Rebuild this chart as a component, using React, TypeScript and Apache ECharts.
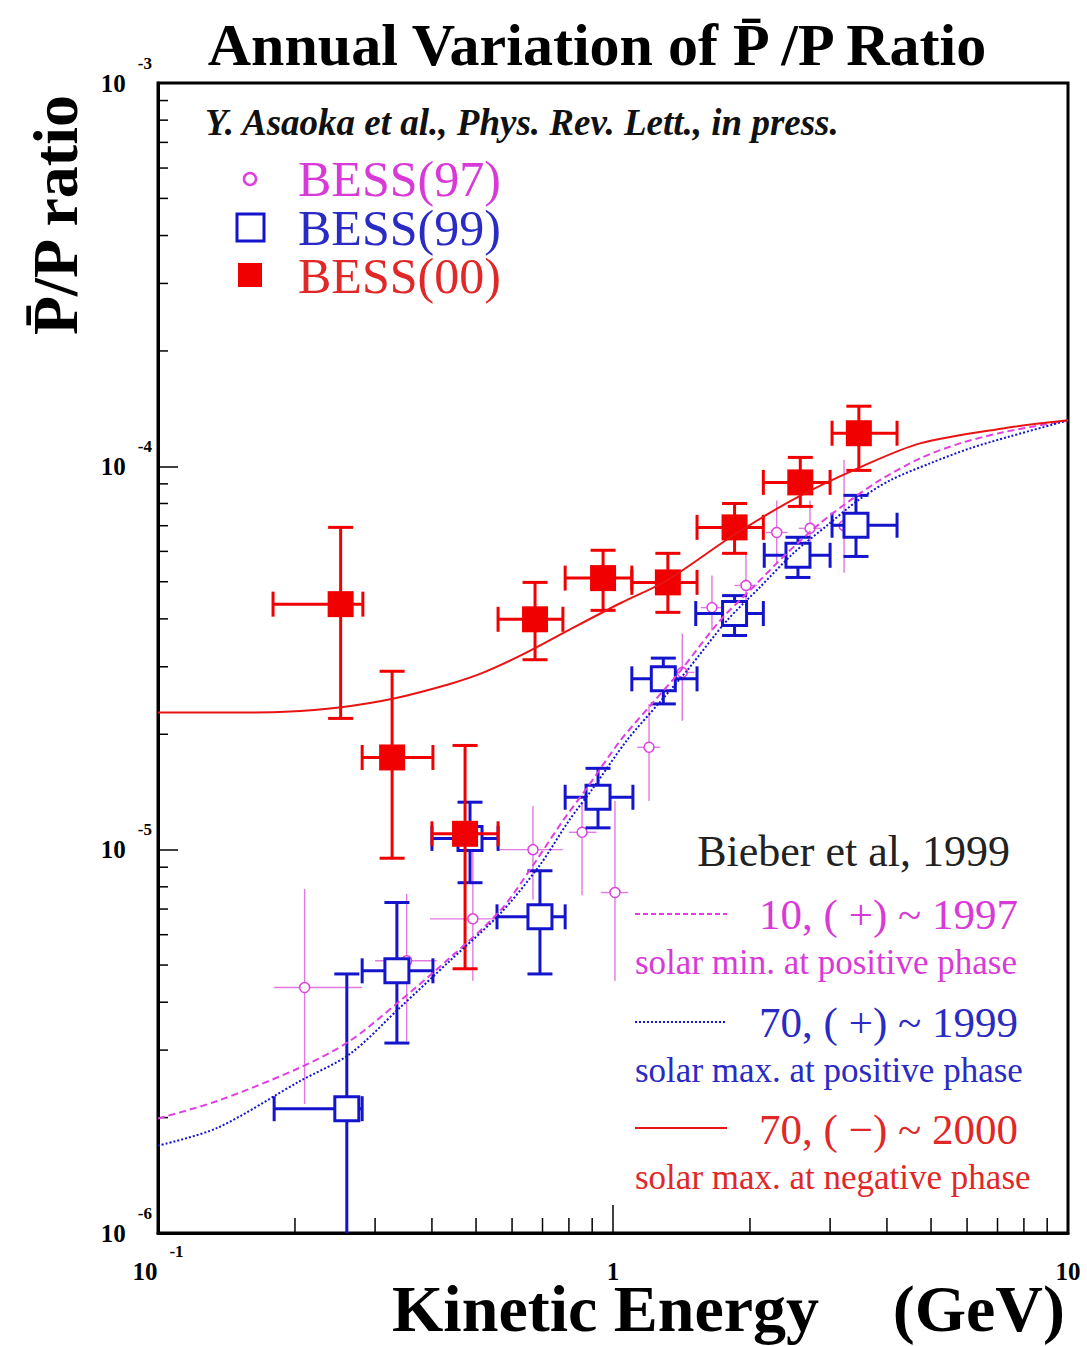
import React, { useEffect, useRef } from "react";
import * as echarts from "echarts";

// ---------- data ----------
const X_MIN = 0.1;
const X_MAX = 10;
const Y_MIN = 1e-6;
const Y_MAX = 1e-3;

// [E, ratio, E_low, E_high, ratio_low, ratio_high]
const bess97 = [
  [0.21, 4.37e-6, 0.18, 0.281, 2.17e-6, 7.9e-6],
  [0.352, 5.13e-6, 0.3, 0.41, 3.17e-6, 7.67e-6],
  [0.492, 6.6e-6, 0.396, 0.556, 4.55e-6, 1.12e-5],
  [0.667, 1.0e-5, 0.559, 0.776, 7.4e-6, 1.3e-5],
  [0.855, 1.11e-5, 0.8, 0.92, 7.6e-6, 1.32e-5],
  [1.01, 7.73e-6, 0.94, 1.08, 4.55e-6, 1.34e-5],
  [1.2, 1.85e-5, 1.13, 1.27, 1.34e-5, 2.4e-5],
  [1.42, 2.9e-5, 1.33, 1.51, 2.17e-5, 3.66e-5],
  [1.65, 4.28e-5, 1.56, 1.74, 3.73e-5, 5.19e-5],
  [1.96, 4.89e-5, 1.85, 2.07, 4.46e-5, 5.93e-5],
  [2.29, 6.72e-5, 2.17, 2.42, 5.61e-5, 8.15e-5],
  [2.71, 6.89e-5, 2.56, 2.87, 5.79e-5, 8.15e-5],
  [3.22, 7.0e-5, 3.05, 3.4, 5.28e-5, 1.04e-4],
];

const bess99 = [
  [0.26, 2.11e-6, 0.18, 0.281, 1e-6, 4.74e-6],
  [0.335, 4.83e-6, 0.281, 0.402, 3.13e-6, 7.28e-6],
  [0.485, 1.07e-5, 0.4, 0.559, 8.2e-6, 1.33e-5],
  [0.691, 6.68e-6, 0.556, 0.785, 4.74e-6, 8.81e-6],
  [0.927, 1.37e-5, 0.785, 1.106, 1.14e-5, 1.63e-5],
  [1.29, 2.79e-5, 1.1, 1.53, 2.4e-5, 3.16e-5],
  [1.85, 4.13e-5, 1.52, 2.14, 3.62e-5, 4.6e-5],
  [2.55, 5.86e-5, 2.15, 3.0, 5.13e-5, 6.53e-5],
  [3.42, 7.02e-5, 3.03, 4.21, 5.82e-5, 8.4e-5],
];

const bess00 = [
  [0.252, 4.37e-5, 0.179, 0.282, 2.2e-5, 6.93e-5],
  [0.327, 1.74e-5, 0.281, 0.402, 9.5e-6, 2.92e-5],
  [0.473, 1.1e-5, 0.4, 0.559, 4.89e-6, 1.87e-5],
  [0.674, 3.99e-5, 0.559, 0.776, 3.13e-5, 4.98e-5],
  [0.951, 5.11e-5, 0.785, 1.1, 4.21e-5, 6.04e-5],
  [1.32, 4.98e-5, 1.1, 1.53, 4.16e-5, 5.93e-5],
  [1.85, 6.93e-5, 1.53, 2.14, 5.93e-5, 8.0e-5],
  [2.58, 9.08e-5, 2.14, 3.0, 7.86e-5, 1.055e-4],
  [3.47, 1.22e-4, 3.03, 4.21, 9.76e-5, 1.435e-4],
];

// model curves (Bieber et al. 1999)
const curve1997 = [
  [0.1, 1.99e-6], [0.135, 2.21e-6], [0.205, 2.7e-6], [0.264, 3.17e-6],
  [0.34, 4.03e-6], [0.438, 5.22e-6], [0.565, 6.93e-6], [0.667, 9.1e-6],
  [0.776, 1.19e-5], [0.877, 1.45e-5], [1.036, 1.92e-5], [1.224, 2.42e-5],
  [1.404, 2.92e-5], [1.719, 3.96e-5], [2.03, 4.83e-5], [2.41, 5.93e-5],
  [2.85, 7.1e-5], [3.32, 8.15e-5], [3.86, 9.2e-5], [4.73, 1.049e-4],
  [5.79, 1.148e-4], [7.2, 1.227e-4], [10, 1.318e-4],
];

const curve1999 = [
  [0.1, 1.69e-6], [0.135, 1.88e-6], [0.205, 2.49e-6], [0.264, 2.93e-6],
  [0.34, 3.87e-6], [0.438, 5.13e-6], [0.565, 6.81e-6], [0.69, 9.1e-6],
  [0.8, 1.19e-5], [0.905, 1.45e-5], [1.07, 1.92e-5], [1.265, 2.42e-5],
  [1.45, 2.92e-5], [1.78, 3.96e-5], [2.1, 4.83e-5], [2.49, 5.93e-5],
  [2.95, 7.0e-5], [3.455, 8.15e-5], [4.062, 9.19e-5], [4.974, 1.018e-4],
  [6.09, 1.114e-4], [7.46, 1.197e-4], [10, 1.318e-4],
];

const curve2000 = [
  [0.1, 2.28e-5], [0.15, 2.28e-5], [0.19, 2.29e-5], [0.25, 2.35e-5],
  [0.33, 2.48e-5], [0.44, 2.71e-5], [0.52, 2.9e-5], [0.64, 3.25e-5],
  [0.82, 3.8e-5], [1.04, 4.4e-5], [1.31, 5.03e-5], [1.84, 6.61e-5],
  [2.54, 8.3e-5], [3.49, 9.94e-5], [4.73, 1.148e-4], [7.2, 1.256e-4],
  [10, 1.318e-4],
];

const xMinorTicks = [0.2, 0.3, 0.4, 0.5, 0.6, 0.7, 0.8, 0.9, 2, 3, 4, 5, 6, 7, 8, 9];
const yMinorTicks = [
  2e-6, 3e-6, 4e-6, 5e-6, 6e-6, 7e-6, 8e-6, 9e-6,
  2e-5, 3e-5, 4e-5, 5e-5, 6e-5, 7e-5, 8e-5, 9e-5,
  2e-4, 3e-4, 4e-4, 5e-4, 6e-4, 7e-4, 8e-4, 9e-4,
];

// ---------- styles ----------
const RED = "#f00000";
const BLUE = "#1414cc";
const MAG = "#e040e0";
const MAG_LINE = "#e27ae2";
const RED_TXT = "#e02828";
const BLUE_TXT = "#2a2ac4";
const MAG_TXT = "#d83ad8";
const SERIF = '"Liberation Serif", "Times New Roman", serif';

function makeErrRender(kind: string) {
  return (params: any, api: any) => {
    const x = api.value(0);
    const y = api.value(1);
    const c = api.coord([x, y]);
    const l = api.coord([api.value(2), y]);
    const r = api.coord([api.value(3), y]);
    const lo = api.coord([x, api.value(4)]);
    const hi = api.coord([x, api.value(5)]);
    const children: any[] = [];
    const color = kind === "red" ? RED : kind === "blue" ? BLUE : MAG_LINE;
    const lw = kind === "mag" ? 1.4 : 3;
    const st = { stroke: color, lineWidth: lw, fill: "none" };
    children.push({ type: "line", shape: { x1: c[0], y1: lo[1], x2: c[0], y2: hi[1] }, style: st });
    children.push({ type: "line", shape: { x1: l[0], y1: c[1], x2: r[0], y2: c[1] }, style: st });
    if (kind !== "mag") {
      const h = 12.5;
      children.push({ type: "line", shape: { x1: c[0] - h, y1: hi[1], x2: c[0] + h, y2: hi[1] }, style: st });
      if (api.value(4) > Y_MIN) {
        children.push({ type: "line", shape: { x1: c[0] - h, y1: lo[1], x2: c[0] + h, y2: lo[1] }, style: st });
      }
      children.push({ type: "line", shape: { x1: l[0], y1: c[1] - h, x2: l[0], y2: c[1] + h }, style: st });
      children.push({ type: "line", shape: { x1: r[0], y1: c[1] - h, x2: r[0], y2: c[1] + h }, style: st });
    }
    if (kind === "red") {
      children.push({ type: "rect", shape: { x: c[0] - 13, y: c[1] - 13, width: 26, height: 26 }, style: { fill: RED } });
    } else if (kind === "blue") {
      children.push({ type: "rect", shape: { x: c[0] - 12, y: c[1] - 12, width: 24, height: 24 }, style: { fill: "#fff", stroke: BLUE, lineWidth: 3 } });
    } else {
      children.push({ type: "circle", shape: { cx: c[0], cy: c[1], r: 5 }, style: { fill: "#fff", stroke: MAG, lineWidth: 1.5 } });
    }
    return { type: "group", children };
  };
}

const axisRich = {
  b: { fontFamily: SERIF, fontWeight: "bold", fontSize: 25, lineHeight: 57, color: "#000" },
  s: { fontFamily: SERIF, fontWeight: "bold", fontSize: 17, lineHeight: 17, padding: [0, 0, 40, 12], color: "#000" },
};

function powLabel(v: number) {
  const e = Math.round(Math.log10(v));
  if (e === 0) return "{b|1}";
  if (e === 1) return "{b|10}";
  return `{b|10}{s|${e}}`;
}

export default function App() {
  const ref = useRef<HTMLDivElement>(null);
  useEffect(() => {
    document.body.style.margin = "0";
    const chart = echarts.init(ref.current!, null, { renderer: "svg" });
    const option: any = {
      animation: false,
      backgroundColor: "#fff",
      grid: { left: 158, right: 19, top: 83, bottom: 113, show: true, borderColor: "#000", borderWidth: 3, backgroundColor: "transparent" },
      xAxis: {
        type: "log", logBase: 10, min: X_MIN, max: X_MAX, splitNumber: 2,
        axisLine: { show: true, onZero: false, lineStyle: { color: "#000", width: 3 } },
        axisTick: { show: true, inside: true, length: 28, lineStyle: { color: "#000", width: 1.5 } },
        splitLine: { show: false },
        axisLabel: { margin: 10, formatter: powLabel, rich: axisRich },
      },
      yAxis: {
        type: "log", logBase: 10, min: Y_MIN, max: Y_MAX, splitNumber: 3,
        axisLine: { show: true, onZero: false, lineStyle: { color: "#000", width: 3 } },
        axisTick: { show: true, inside: true, length: 20, lineStyle: { color: "#000", width: 1.5 } },
        splitLine: { show: false },
        axisLabel: { margin: 6, formatter: powLabel, rich: axisRich },
      },
      series: [
        {
          type: "custom", name: "xMinor", silent: true, z: 1,
          data: xMinorTicks.map((v) => [v, Y_MIN]),
          renderItem: (p: any, api: any) => {
            const pt = api.coord([api.value(0), api.value(1)]);
            return { type: "line", shape: { x1: pt[0], y1: pt[1], x2: pt[0], y2: pt[1] - 15 }, style: { stroke: "#000", lineWidth: 1.5 } };
          },
        },
        {
          type: "custom", name: "yMinor", silent: true, z: 1,
          data: yMinorTicks.map((v) => [X_MIN, v]),
          renderItem: (p: any, api: any) => {
            const pt = api.coord([api.value(0), api.value(1)]);
            return { type: "line", shape: { x1: pt[0], y1: pt[1], x2: pt[0] + 10, y2: pt[1] }, style: { stroke: "#000", lineWidth: 1.5 } };
          },
        },
        { type: "custom", name: "BESS(97)", z: 2, data: bess97, renderItem: makeErrRender("mag"), encode: { x: 0, y: 1 } },
        { type: "custom", name: "BESS(99)", z: 3, data: bess99, renderItem: makeErrRender("blue"), encode: { x: 0, y: 1 } },
        { type: "custom", name: "BESS(00)", z: 4, data: bess00, renderItem: makeErrRender("red"), encode: { x: 0, y: 1 } },
        { type: "line", name: "10, (+) ~ 1997", z: 5, data: curve1997, showSymbol: false, smooth: 0.3, lineStyle: { color: MAG, width: 2, type: [7, 4] } },
        { type: "line", name: "70, (+) ~ 1999", z: 5, data: curve1999, showSymbol: false, smooth: 0.3, lineStyle: { color: BLUE, width: 2, type: [2, 2] } },
        { type: "line", name: "70, (-) ~ 2000", z: 5, data: curve2000, showSymbol: false, smooth: 0.3, lineStyle: { color: "#e81414", width: 2 } },
      ],
      graphic: [
        { type: "text", x: 597, y: 45, style: { text: "Annual Variation of P\u0304 /P Ratio", font: `bold 60px ${SERIF}`, fill: "#000", align: "center", verticalAlign: "middle" } },
        { type: "text", x: 55, y: 215, rotation: Math.PI / 2, style: { text: "P\u0304/P ratio", font: `bold 64px ${SERIF}`, fill: "#000", align: "center", verticalAlign: "middle" } },
        { type: "text", x: 392, y: 1308, style: { text: "Kinetic Energy", font: `bold 66px ${SERIF}`, fill: "#000", align: "left", verticalAlign: "middle" } },
        { type: "text", x: 1065, y: 1308, style: { text: "(GeV)", font: `bold 66px ${SERIF}`, fill: "#000", align: "right", verticalAlign: "middle" } },
        { type: "text", x: 205, y: 122, style: { text: "Y. Asaoka et al., Phys. Rev. Lett., in press.", font: `italic bold 37px ${SERIF}`, fill: "#111", align: "left", verticalAlign: "middle" } },
        // data legend
        { type: "circle", shape: { cx: 250, cy: 179, r: 6 }, style: { fill: "#fff", stroke: MAG, lineWidth: 2.5 } },
        { type: "text", x: 298, y: 179, style: { text: "BESS(97)", font: `50px ${SERIF}`, fill: MAG_TXT, align: "left", verticalAlign: "middle" } },
        { type: "rect", shape: { x: 237, y: 214, width: 27, height: 27 }, style: { fill: "#fff", stroke: BLUE, lineWidth: 3 } },
        { type: "text", x: 298, y: 228, style: { text: "BESS(99)", font: `50px ${SERIF}`, fill: BLUE_TXT, align: "left", verticalAlign: "middle" } },
        { type: "rect", shape: { x: 238, y: 263, width: 24, height: 24 }, style: { fill: RED } },
        { type: "text", x: 298, y: 276, style: { text: "BESS(00)", font: `50px ${SERIF}`, fill: RED_TXT, align: "left", verticalAlign: "middle" } },
        // model legend
        { type: "text", x: 1010, y: 851, style: { text: "Bieber et al, 1999", font: `44px ${SERIF}`, fill: "#222", align: "right", verticalAlign: "middle" } },
        { type: "line", shape: { x1: 635, y1: 914, x2: 727, y2: 914 }, style: { stroke: MAG, lineWidth: 2, lineDash: [5, 3] } },
        { type: "text", x: 1018, y: 914, style: { text: "10, ( +) ~ 1997", font: `43px ${SERIF}`, fill: MAG_TXT, align: "right", verticalAlign: "middle" } },
        { type: "text", x: 635, y: 962, style: { text: "solar min. at positive phase", font: `35px ${SERIF}`, fill: MAG_TXT, align: "left", verticalAlign: "middle" } },
        { type: "line", shape: { x1: 635, y1: 1022, x2: 727, y2: 1022 }, style: { stroke: BLUE, lineWidth: 2, lineDash: [2, 2] } },
        { type: "text", x: 1018, y: 1022, style: { text: "70, ( +) ~ 1999", font: `43px ${SERIF}`, fill: BLUE_TXT, align: "right", verticalAlign: "middle" } },
        { type: "text", x: 635, y: 1070, style: { text: "solar max. at positive phase", font: `35px ${SERIF}`, fill: BLUE_TXT, align: "left", verticalAlign: "middle" } },
        { type: "line", shape: { x1: 635, y1: 1128, x2: 727, y2: 1128 }, style: { stroke: "#e81414", lineWidth: 2 } },
        { type: "text", x: 1018, y: 1129, style: { text: "70, ( \u2212) ~ 2000", font: `43px ${SERIF}`, fill: RED_TXT, align: "right", verticalAlign: "middle" } },
        { type: "text", x: 635, y: 1177, style: { text: "solar max. at negative phase", font: `35px ${SERIF}`, fill: RED_TXT, align: "left", verticalAlign: "middle" } },
      ],
    };
    chart.setOption(option);
    return () => chart.dispose();
  }, []);
  return <div ref={ref} style={{ width: 1087, height: 1346 }} />;
}
